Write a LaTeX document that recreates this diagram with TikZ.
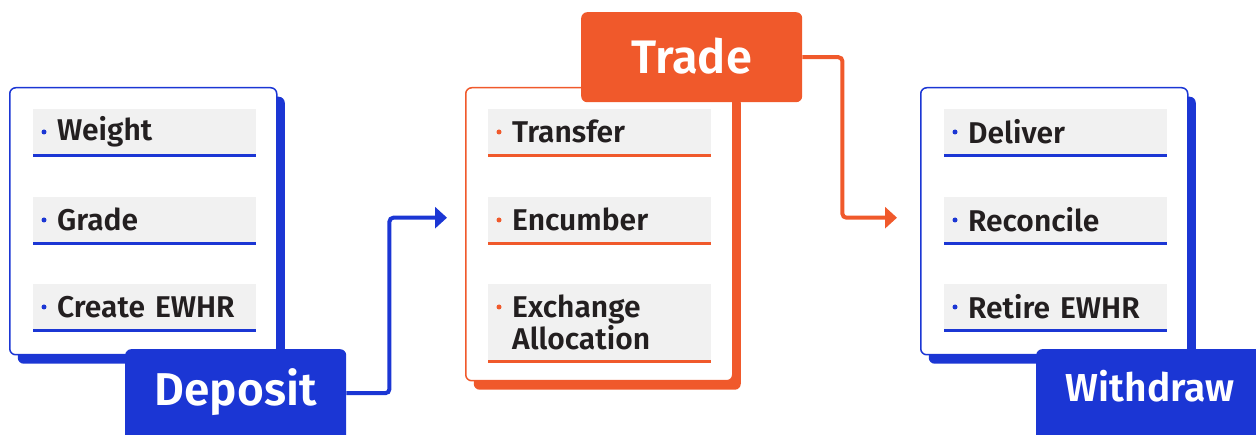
\documentclass[tikz,border=0pt]{standalone}
\usepackage{fontspec}
\setmainfont{Fira Sans}[BoldFont={Fira Sans SemiBold}]
\usetikzlibrary{arrows.meta,shadows}

\definecolor{dblue}{HTML}{1B36D4}
\definecolor{tange}{HTML}{F0592B}
\definecolor{lgray}{HTML}{F1F1F1}
\definecolor{ink}{HTML}{231F20}

\begin{document}
\begin{tikzpicture}[
    x=1pt, y=-1pt,
    panel/.style={draw=#1, line width=1.5pt, fill=white, rounded corners=6pt,
        anchor=north west, minimum width=267pt,
        drop shadow={fill=#1, opacity=1, shadow xshift=8pt, shadow yshift=-9pt}},
    item/.style={fill=lgray, anchor=north west, minimum width=223pt, minimum height=45pt,
        text width=199pt, inner xsep=12pt, inner ysep=0pt, align=left, text=ink,
        execute at begin node={\leftskip=12pt\relax},
        font=\fontsize{30}{32}\selectfont\bfseries},
    uline/.style={line width=3pt, draw=#1},
    tag/.style={fill=#1, rounded corners=6pt, text=white, anchor=north west,
        inner sep=0pt},
    flow/.style={draw=#1, line width=4pt, rounded corners=4pt,
        -{Triangle[length=12pt, width=21pt]}}
]
    \useasboundingbox (0,0) rectangle (1256,435);

    % panels
    \node[panel=dblue, minimum height=267pt] (lpan) at (9,87) {};
    \node[panel=tange, minimum height=293pt] (mpan) at (465,87) {};
    \node[panel=dblue, minimum height=267pt] (rpan) at (920,87) {};

    % deposit items
    \node[item] (wgt) at (33,109) {Weight};
    \node[item] (grd) at (33,197) {Grade};
    \node[item] (ewhr) at (33,284) {Create EWHR};

    % trade items
    \node[item] (trf) at (488,109) {Transfer};
    \node[item] (enc) at (488,197) {Encumber};
    \node[item, minimum height=76pt] (xal) at (488,284) {Exchange\\Allocation};

    % withdraw items
    \node[item] (dlv) at (944,109) {Deliver};
    \node[item] (rec) at (944,197) {Reconcile};
    \node[item] (ret) at (944,284) {Retire EWHR};

    \foreach \n in {wgt,grd,ewhr,dlv,rec,ret} {
        \draw[uline=dblue] ([yshift=-1.5pt]\n.south west) -- ([yshift=-1.5pt]\n.south east);
        \fill[dblue] ([xshift=11pt,yshift=-23pt]\n.north west) circle (2.5pt);
    }
    \foreach \n in {trf,enc,xal} {
        \draw[uline=tange] ([yshift=-1.5pt]\n.south west) -- ([yshift=-1.5pt]\n.south east);
        \fill[tange] ([xshift=11pt,yshift=-23pt]\n.north west) circle (2.5pt);
    }

    % stage tags
    \node[tag=dblue, minimum width=221pt, minimum height=100pt, text height=32pt, text depth=20pt,
        font=\fontsize{46}{46}\selectfont\bfseries] (dep) at (125,349) {Deposit};
    \node[tag=tange, minimum width=221pt, minimum height=90pt, text height=33pt, text depth=0pt,
        font=\fontsize{47}{47}\selectfont\bfseries] (trd) at (581,12) {Trade};
    \node[tag=dblue, minimum width=228pt, minimum height=100pt, text height=27pt, text depth=22pt,
        font=\fontsize{39}{39}\selectfont\bfseries] (wdr) at (1036,349) {Withdraw};

    % connectors
    \draw[flow=dblue] ([yshift=6pt]dep.east) -- ++(43,0) |- ([xshift=-18pt,yshift=2pt]mpan.west |- enc.center);
    \draw[flow=tange] (trd.east) -- ++(40,0) |- ([xshift=-23pt,yshift=2pt]rpan.west |- rec.center);
\end{tikzpicture}
\end{document}
